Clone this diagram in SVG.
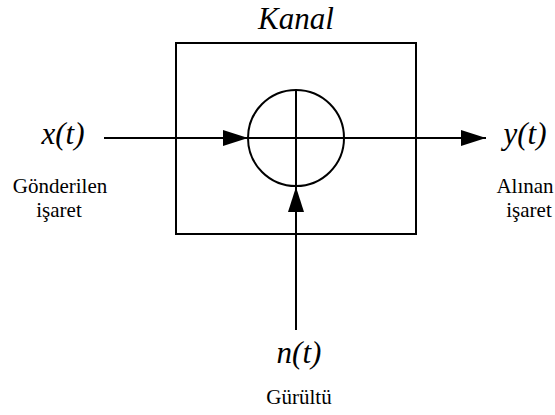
<svg xmlns="http://www.w3.org/2000/svg" width="555" height="415" viewBox="0 0 555 415">
<defs>
<marker id="ah" viewBox="0 0 25 16" refX="25" refY="8" markerWidth="25" markerHeight="16" markerUnits="userSpaceOnUse" orient="auto">
<path d="M0,0 L25,8 L0,16 Z" fill="#000"/>
</marker>
</defs>
<rect width="555" height="415" fill="#fff"/>
<g id="kanal">
<rect x="176" y="43" width="240" height="191" fill="none" stroke="#000" stroke-width="2"/>
<text x="296" y="29" font-family="Liberation Serif, serif" font-style="italic" font-size="31" text-anchor="middle">Kanal</text>
</g>
<g id="toplayici">
<circle cx="296" cy="138" r="48" fill="none" stroke="#000" stroke-width="2"/>
<line x1="296" y1="90" x2="296" y2="186" stroke="#000" stroke-width="2"/>
</g>
<g id="giris">
<text x="63" y="144" font-family="Liberation Serif, serif" font-style="italic" font-size="31" text-anchor="middle">x(t)</text>
<text x="60" y="193" font-family="Liberation Serif, serif" font-size="21" text-anchor="middle">Gönderilen</text>
<text x="59" y="217" font-family="Liberation Serif, serif" font-size="21" text-anchor="middle">işaret</text>
</g>
<g id="cikis">
<text x="525" y="144" font-family="Liberation Serif, serif" font-style="italic" font-size="31" text-anchor="middle">y(t)</text>
<text x="525" y="193" font-family="Liberation Serif, serif" font-size="21" text-anchor="middle">Alınan</text>
<text x="529" y="217" font-family="Liberation Serif, serif" font-size="21" text-anchor="middle">işaret</text>
</g>
<g id="gurultu">
<text x="299" y="363" font-family="Liberation Serif, serif" font-style="italic" font-size="31" text-anchor="middle">n(t)</text>
<text x="299" y="404" font-family="Liberation Serif, serif" font-size="21" text-anchor="middle">Gürültü</text>
</g>
<g id="connectors" stroke="#000" stroke-width="2" fill="none">
<line x1="104" y1="138" x2="248" y2="138" marker-end="url(#ah)"/>
<line x1="248" y1="138" x2="486" y2="138" marker-end="url(#ah)"/>
<line x1="296" y1="330" x2="296" y2="187" marker-end="url(#ah)"/>
</g>
</svg>
